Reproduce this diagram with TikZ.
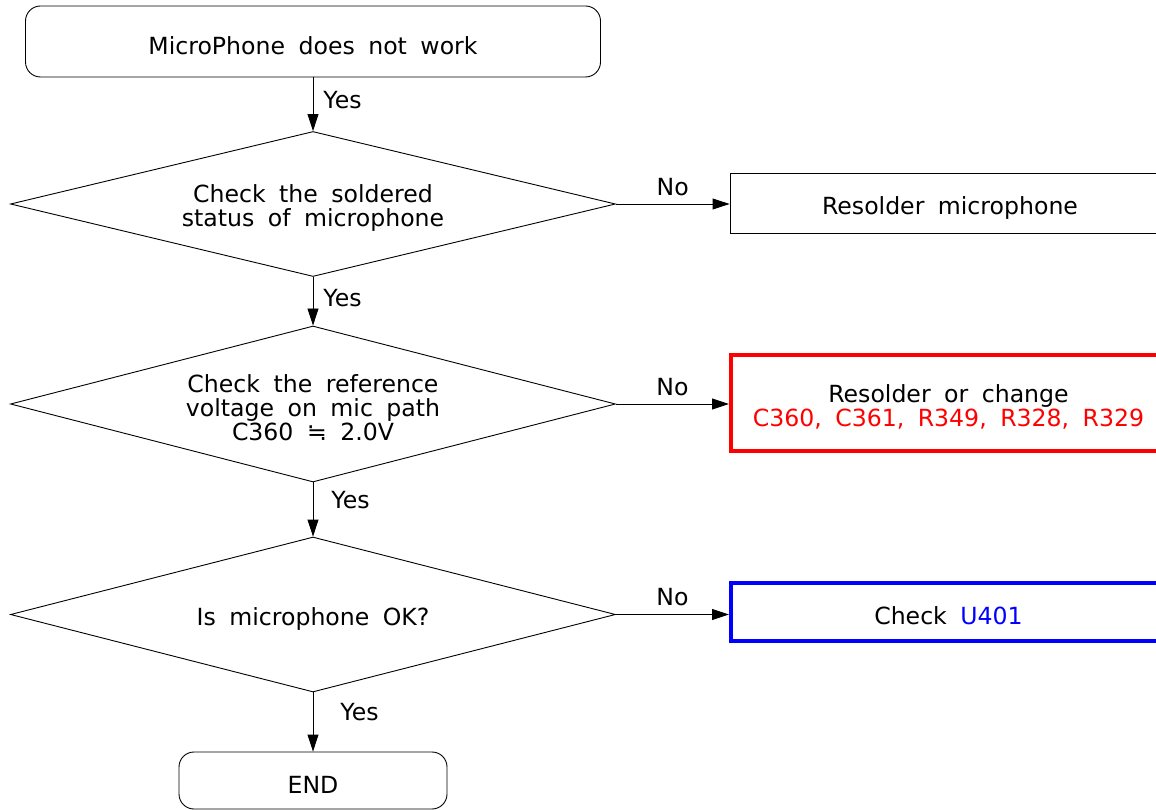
\documentclass[tikz,border=0pt]{standalone}
\usepackage{fontspec}
\setmainfont[WordSpace=1.8]{DejaVu Sans}
\usetikzlibrary{shapes.geometric,arrows.meta}
\definecolor{chkred}{rgb}{1,0,0}
\definecolor{chkblue}{rgb}{0,0,1}
\newcommand{\cred}[1]{\textcolor{chkred}{#1}}
\newcommand{\cblu}[1]{\textcolor{chkblue}{#1}}
\newcommand{\lowr}{\rule{0pt}{26pt}}

\begin{document}
\begin{tikzpicture}[x=1pt,y=-1pt,
	every node/.style={font=\fontsize{23.6}{24}\selectfont},
	term/.style={draw,rounded corners=15pt,line width=0.9pt},
	cond/.style={draw,diamond,aspect=4.2,inner sep=0pt,line width=0.9pt,align=center,minimum width=605pt},
	act/.style={draw,rectangle,line width=0.9pt,align=center},
	arr/.style={-{Triangle[length=17pt,width=11pt]},line width=0.9pt},
	lbl/.style={inner sep=0pt}]
	\useasboundingbox (0,0) rectangle (1156,810);

	\node[term,minimum width=575pt,minimum height=71pt] (start) at (313,41.5) {\lowr MicroPhone does not work};
	\node[cond,minimum height=145pt] (solder) at (313,204) {\lowr Check the soldered\\status of microphone};
	\node[cond,minimum height=156pt] (refv) at (313,404) {\lowr Check the reference\\voltage on mic path\\C360 ≒ 2.0V};
	\node[cond,minimum height=155pt] (micok) at (313,614.5) {\lowr Is microphone OK?};
	\node[term,minimum width=268pt,minimum height=57pt] (end) at (313,780.5) {\lowr END};

	\node[act,minimum width=440pt,minimum height=60pt] (resold) at (950,203.5) {\lowr Resolder microphone};
	\node[act,draw=chkred,line width=4pt,minimum width=435pt,minimum height=96pt] (change) at (948.5,403)
		{\lowr Resolder or change\\\cred{C360, C361, R349, R328, R329}};
	\node[act,draw=chkblue,line width=4pt,minimum width=435pt,minimum height=58pt] (chku) at (948.5,612)
		{\lowr Check \cblu{U401}};

	\draw[arr] (start) -- node[lbl,right=10pt,pos=0.43] {Yes} (solder);
	\draw[arr] (solder) -- node[lbl,right=10pt,pos=0.44] {Yes} (refv);
	\draw[arr] (refv) -- node[lbl,right=18pt,pos=0.33] {Yes} (micok);
	\draw[arr] (micok) -- node[lbl,right=27pt,pos=0.33] {Yes} (end);

	\draw[arr] (solder.east) -- node[lbl,above=8pt] {No} (solder.east -| resold.west);
	\draw[arr] (refv.east) -- node[lbl,above=8pt] {No} (refv.east -| change.west);
	\draw[arr] (micok.east) -- node[lbl,above=8pt] {No} (micok.east -| chku.west);

\end{tikzpicture}
\end{document}
